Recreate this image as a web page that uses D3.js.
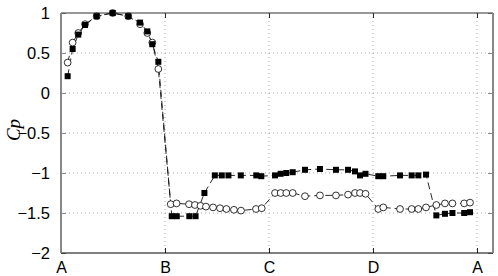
<!DOCTYPE html>
<html>
<head>
<meta charset="utf-8">
<script src="https://cdn.jsdelivr.net/npm/d3@7"></script>
<style>
  body { margin: 0; background: #fff; }
  text { font-family: "Liberation Sans", Arial, sans-serif; }
</style>
</head>
<body>
<svg width="498" height="276"></svg>
<script>
// face positions: A=0, B=1, C=2, D=3, A=4
var xTicks = [0, 1, 2, 3, 4];
var xTickLabels = ["A", "B", "C", "D", "A"];
var yTicks = [-2, -1.5, -1, -0.5, 0, 0.5, 1];
var yTickLabels = ["\u22122", "\u22121.5", "\u22121", "\u22120.5", "0", "0.5", "1"];

// filled squares
var squareX = [0.064, 0.112, 0.166, 0.231, 0.343, 0.497, 0.647, 0.760, 0.830, 0.878, 0.936,
               1.065, 1.113, 1.234, 1.294, 1.379, 1.479, 1.546, 1.610, 1.729, 1.878, 1.926,
               2.058, 2.112, 2.166, 2.228, 2.346, 2.490, 2.644, 2.760, 2.827, 2.875, 2.928,
               3.051, 3.099, 3.260, 3.372, 3.436, 3.510, 3.609, 3.692, 3.764, 3.877, 3.933];
var squareCp = [0.21, 0.55, 0.73, 0.85, 0.96, 1.00, 0.96, 0.88, 0.77, 0.61, 0.39,
                -1.54, -1.54, -1.54, -1.54, -1.25, -1.03, -1.03, -1.03, -1.03, -1.03, -1.04,
                -1.03, -1.01, -1.00, -0.99, -0.96, -0.95, -0.96, -0.96, -0.98, -1.03, -1.01,
                -1.04, -1.04, -1.03, -1.03, -1.03, -1.02, -1.53, -1.51, -1.50, -1.50, -1.49];

// open circles
var circleX = [0.064, 0.112, 0.166, 0.231, 0.343, 0.497, 0.647, 0.760, 0.830, 0.878, 0.936,
               1.055, 1.111, 1.231, 1.288, 1.341, 1.394, 1.462, 1.529, 1.591, 1.663, 1.731, 1.875, 1.930,
               2.058, 2.112, 2.166, 2.228, 2.346, 2.490, 2.644, 2.760, 2.827, 2.875, 2.928,
               3.051, 3.099, 3.260, 3.372, 3.436, 3.510, 3.609, 3.692, 3.764, 3.877, 3.933];
var circleCp = [0.38, 0.63, 0.75, 0.86, 0.96, 1.00, 0.96, 0.86, 0.75, 0.63, 0.30,
                -1.39, -1.38, -1.39, -1.40, -1.41, -1.42, -1.43, -1.44, -1.45, -1.46, -1.47, -1.45, -1.44,
                -1.25, -1.25, -1.25, -1.25, -1.29, -1.28, -1.28, -1.27, -1.25, -1.25, -1.26,
                -1.45, -1.43, -1.45, -1.45, -1.45, -1.43, -1.40, -1.38, -1.38, -1.38, -1.37];

var svg = d3.select("svg");

var pLeft = 61, pRight = 493, pTop = 13, pBottom = 253;

var x = d3.scaleLinear().domain([0, 4.154]).range([pLeft, pRight]);
var y = d3.scaleLinear().domain([-2, 1]).range([pBottom, pTop]);

var squares = squareX.map(function(d, i) { return [d, squareCp[i]]; });
var circles = circleX.map(function(d, i) { return [d, circleCp[i]]; });

// grid
var grid = svg.append("g").attr("class", "grid");
grid.selectAll("line.gx")
  .data(xTicks.slice(1))
  .enter().append("line")
    .attr("x1", function(d) { return x(d); })
    .attr("x2", function(d) { return x(d); })
    .attr("y1", pTop)
    .attr("y2", pBottom)
    .attr("stroke", "#aaa")
    .attr("stroke-width", 1)
    .attr("stroke-dasharray", "1,3");
grid.selectAll("line.gy")
  .data(yTicks.slice(1, -1))
  .enter().append("line")
    .attr("x1", pLeft)
    .attr("x2", pRight)
    .attr("y1", function(d) { return y(d); })
    .attr("y2", function(d) { return y(d); })
    .attr("stroke", "#aaa")
    .attr("stroke-width", 1)
    .attr("stroke-dasharray", "1,3");

// axes
var xAxisBottom = d3.axisBottom(x).tickValues(xTicks).tickSize(-5).tickPadding(9)
  .tickFormat(function(d, i) { return xTickLabels[i]; });
var xAxisTop = d3.axisTop(x).tickValues(xTicks).tickSize(-5).tickFormat("");
var yAxisLeft = d3.axisLeft(y).tickValues(yTicks).tickSize(-5).tickPadding(11)
  .tickFormat(function(d, i) { return yTickLabels[i]; });
var yAxisRight = d3.axisRight(y).tickValues(yTicks).tickSize(-5).tickFormat("");

function styleAxis(g, col, size) {
  g.select(".domain").remove();
  g.selectAll(".tick line").attr("stroke", col).attr("stroke-width", 1);
  g.selectAll(".tick text").attr("fill", "#000").style("font-size", size + "px");
}

svg.append("g").attr("transform", "translate(0," + pBottom + ")").call(xAxisBottom)
  .call(styleAxis, "#222", 16);
svg.append("g").attr("transform", "translate(0," + pTop + ")").call(xAxisTop)
  .call(styleAxis, "#222", 16);
svg.append("g").attr("transform", "translate(" + pLeft + ",0)").call(yAxisLeft)
  .call(styleAxis, "#888", 16.5);
svg.append("g").attr("transform", "translate(" + pRight + ",0)").call(yAxisRight)
  .call(styleAxis, "#888", 16);

// box
svg.append("line").attr("x1", pLeft).attr("x2", pRight).attr("y1", pTop).attr("y2", pTop)
  .attr("stroke", "#333").attr("stroke-width", 1);
svg.append("line").attr("x1", pLeft).attr("x2", pRight).attr("y1", pBottom).attr("y2", pBottom)
  .attr("stroke", "#000").attr("stroke-width", 1);
svg.append("line").attr("x1", pLeft).attr("x2", pLeft).attr("y1", pTop).attr("y2", pBottom)
  .attr("stroke", "#888").attr("stroke-width", 2);
svg.append("line").attr("x1", pRight).attr("x2", pRight).attr("y1", pTop).attr("y2", pBottom)
  .attr("stroke", "#888").attr("stroke-width", 2);

// series lines
var line = d3.line()
  .x(function(d) { return x(d[0]); })
  .y(function(d) { return y(d[1]); });

svg.append("path")
  .datum(squares)
  .attr("d", line)
  .attr("fill", "none")
  .attr("stroke", "#111")
  .attr("stroke-width", 0.9)
  .attr("stroke-dasharray", "7,4");

svg.append("path")
  .datum(circles)
  .attr("d", line)
  .attr("fill", "none")
  .attr("stroke", "#111")
  .attr("stroke-width", 0.9)
  .attr("stroke-dasharray", "7,4");

// markers: circles below, squares on top
svg.append("g").selectAll("circle")
  .data(circles)
  .enter().append("circle")
    .attr("cx", function(d) { return x(d[0]); })
    .attr("cy", function(d) { return y(d[1]); })
    .attr("r", 3.4)
    .attr("fill", "#fff")
    .attr("stroke", "#000")
    .attr("stroke-width", 0.8);

svg.append("g").selectAll("rect")
  .data(squares)
  .enter().append("rect")
    .attr("x", function(d) { return x(d[0]) - 3; })
    .attr("y", function(d) { return y(d[1]) - 3; })
    .attr("width", 6)
    .attr("height", 6)
    .attr("fill", "#000");

// y label
svg.append("text")
  .attr("transform", "translate(20,130) rotate(-90)")
  .attr("text-anchor", "middle")
  .style("font-family", "'Liberation Serif', serif")
  .style("font-style", "italic")
  .style("font-size", "19px")
  .text("Cp");
</script>
</body>
</html>
